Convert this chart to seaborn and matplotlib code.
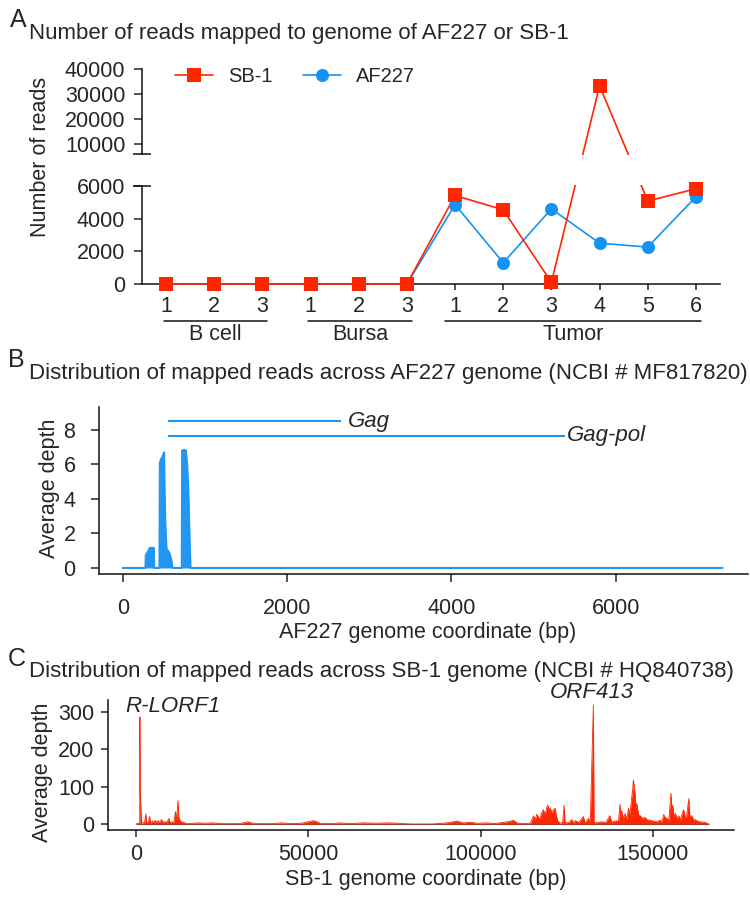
import numpy as np
import pandas as pd
import matplotlib
matplotlib.use("Agg")
import matplotlib.pyplot as plt
from matplotlib.lines import Line2D
from matplotlib.patches import Rectangle
import seaborn as sns

# ---------------- Panel A data ----------------
sample_labels = ['1', '2', '3', '1', '2', '3', '1', '2', '3', '4', '5', '6']
group_names = ['B cell', 'Bursa', 'Tumor']
group_first = [0, 3, 6]
group_last = [2, 5, 11]
sb1_reads = [0, 0, 0, 0, 0, 0, 5420, 4540, 100, 33300, 5080, 5830]
af227_reads = [0, 0, 0, 0, 0, 0, 4860, 1300, 4600, 2500, 2260, 5340]
a_yticks = [0, 2000, 4000, 6000, 10000, 20000, 30000, 40000]
a_break = 6000
a_ymax = 40000

# ---------------- Panel B data ----------------
b_pos = [0, 275, 280, 300, 329, 378, 382, 446, 451, 465, 483, 503, 507, 516,
         532, 564, 592, 604, 718, 722, 745, 767, 783, 796, 816, 824, 7300]
b_depth = [0, 0, 0.75, 0.9, 1.16, 1.16, 0, 0, 6.1, 6.3, 6.45, 6.7, 5.0, 2.8,
           1.1, 0.9, 0.45, 0, 0, 6.8, 6.85, 6.8, 6.0, 4.7, 1.2, 0, 0]
gene_names_b = ['Gag', 'Gag-pol']
gene_start_b = [552, 552]
gene_end_b = [2660, 5380]
gene_y_b = [8.5, 7.65]
b_xticks = [0, 2000, 4000, 6000]
b_yticks = [0, 2, 4, 6, 8]

# ---------------- Panel C data ----------------
c_pos = [0, 600, 1100, 1160, 1250, 1500, 1700, 2500, 2900, 3100, 3600, 4000, 4200,
         4800, 5200, 5600, 6000, 6400, 6800, 7500, 7800, 8300, 8800, 9200, 9600, 9900,
         10400, 11000, 11500, 11700, 12200, 12400, 12800, 13500, 14200, 15000, 18000,
         20000, 22000, 25000, 30000, 32500, 33500, 35000, 40000, 42000, 45000, 48000,
         50500, 51500, 52500, 53500, 57000, 59000, 62000, 66000, 70000, 73000, 76000,
         80000, 86000, 89000, 91000, 93000, 95000, 97000, 99000, 102000, 104000,
         108500, 109500, 110500, 112000, 114500, 115300, 115800, 116300, 116800,
         117200, 117700, 118200, 118700, 119200, 119500, 119900, 120200, 120600,
         121100, 121600, 122000, 122400, 123000, 123800, 124200, 124500, 125500,
         126400, 127000, 127400, 128500, 129800, 130300, 131300, 131800, 132700,
         132900, 134000, 135100, 136300, 137500, 138000, 139400, 140000, 140400,
         140700, 140900, 141300, 141900, 142400, 142900, 143300, 143800, 144100,
         144300, 144600, 144800, 145100, 145300, 145800, 146300, 147000, 147600,
         148200, 149000, 150200, 151000, 152100, 152600, 153100, 153500, 154000,
         154600, 155200, 155500, 155700, 156100, 156500, 157000, 157500, 158000,
         158500, 158900, 159400, 159800, 160400, 160700, 161300, 161800, 162300,
         162800, 163500, 164700, 165500, 166200]
c_depth = [0, 2, 0, 286, 80, 30, 2, 4, 27, 3, 6, 20, 3,
           8, 4, 10, 3, 9, 4, 12, 3, 7, 4, 8, 15, 3,
           6, 4, 33, 4, 62, 20, 8, 5, 3, 1, 3,
           2, 3, 1, 1, 6, 3, 1, 1, 3, 1, 2,
           7, 9, 6, 2, 1, 3, 1, 3, 2, 3, 2,
           0, 0, 2, 4, 8, 3, 5, 2, 3, 1,
           7, 10, 3, 1, 2, 22, 12, 26, 18,
           14, 30, 38, 25, 45, 50, 35, 44, 30,
           38, 42, 20, 8, 2, 4, 50, 3, 4,
           12, 3, 9, 4, 20, 3, 15, 3, 318,
           3, 4, 6, 4, 22, 5, 9, 6, 52,
           20, 36, 15, 28, 12, 42, 25, 70, 90,
           118, 95, 80, 40, 55, 25, 22, 15, 18,
           12, 10, 8, 6, 10, 6, 25, 18, 15,
           10, 82, 40, 50, 20, 28, 15, 22, 10,
           30, 38, 15, 25, 68, 20, 22, 10, 12,
           8, 6, 5, 3, 0]
c_genome_len = 166200
gene_names_c = ['R-LORF1', 'ORF413']
gene_label_x_c = [-3190, 120140]
gene_label_y_c = [313, 352]
c_xticks = [0, 50000, 100000, 150000]
c_yticks = [0, 100, 200, 300]

RED = '#FF2600'
BLUE = '#1493F5'
BLUE_B = '#2196F3'

# ---------------- style ----------------
sns.set_style('ticks')
plt.rcParams['font.family'] = ['Liberation Sans', 'DejaVu Sans']
plt.rcParams['axes.linewidth'] = 1.1
plt.rcParams['axes.edgecolor'] = '#111111'

W, H = 750, 899
fig = plt.figure(figsize=(W / 100, H / 100), dpi=100)


def rect(l, t, r, b):
    return [l / W, 1 - b / H, (r - l) / W, (b - t) / H]


axA = fig.add_axes(rect(142, 69, 720, 284))
axB = fig.add_axes(rect(99, 407, 748, 574))
axC = fig.add_axes(rect(108, 700, 734, 830))

TICK_FS = 15.5
LAB_FS = 15.5
TITLE_FS = 16
LETTER_FS = 18

# ---------------- Panel A ----------------
L_PX, GAP_PX = 98.0, 32.0
K_PX = (215.0 - L_PX - GAP_PX) / (a_ymax - a_break)


def fwd(y):
    y = np.asarray(y, dtype=float)
    return np.where(y <= a_break, y / a_break * L_PX, L_PX + GAP_PX + (y - a_break) * K_PX)


def inv(v):
    v = np.asarray(v, dtype=float)
    return np.where(v <= L_PX, v / L_PX * a_break,
                    np.where(v < L_PX + GAP_PX, a_break, a_break + (v - L_PX - GAP_PX) / K_PX))


xs = np.arange(len(sample_labels))
dfA = pd.DataFrame({'x': xs, 'SB-1': sb1_reads, 'AF227': af227_reads})

sns.lineplot(data=dfA, x='x', y='AF227', ax=axA, color=BLUE, lw=1.2,
             clip_on=False, zorder=3, legend=False)
sns.lineplot(data=dfA, x='x', y='SB-1', ax=axA, color=RED, lw=1.2,
             clip_on=False, zorder=3.2, legend=False)
sns.scatterplot(data=dfA, x='x', y='AF227', ax=axA, color=BLUE, marker='o',
                s=9.4 ** 2, linewidth=0, clip_on=False, zorder=6, legend=False)
sns.scatterplot(data=dfA, x='x', y='SB-1', ax=axA, color=RED, marker='s',
                s=10 ** 2, linewidth=0, clip_on=False, zorder=6.2, legend=False)

axA.set_yscale('function', functions=(fwd, inv))
axA.set_ylim(0, a_ymax)
axA.set_xlim(-0.5, len(sample_labels) - 0.5)
axA.set_yticks(a_yticks)
axA.set_yticklabels([str(v) for v in a_yticks])
axA.yaxis.set_minor_locator(matplotlib.ticker.NullLocator())
axA.set_xticks(xs)
axA.set_xticklabels(sample_labels)
axA.set_xlabel('')
axA.set_ylabel('Number of reads', fontsize=LAB_FS)
axA.yaxis.set_label_coords(-0.157, 0.59)
axA.tick_params(axis='y', length=6, width=1.1, pad=6, labelsize=TICK_FS)
axA.tick_params(axis='x', length=4, width=1.1, pad=5, labelsize=TICK_FS)
sns.despine(ax=axA)

total = float(fwd(a_ymax))
lo = L_PX / total
hi = (L_PX + GAP_PX) / total
axA.add_patch(Rectangle((-0.016, lo + 1.0 / total), 1.1, hi - lo - 2.0 / total,
                        transform=axA.transAxes, facecolor='white', edgecolor='none',
                        zorder=5, clip_on=False))
dx = 9.0 / 578
for yy in (lo, hi):
    axA.plot([-dx, dx], [yy, yy], transform=axA.transAxes, color='#111111',
             lw=1.1, clip_on=False, zorder=7, solid_capstyle='butt')

xt = axA.get_xaxis_transform()
for name, a, b in zip(group_names, group_first, group_last):
    pad_l = 0.2 if name == 'Tumor' else 0.05
    axA.plot([a - pad_l, b + 0.1], [-0.172, -0.172], transform=xt, color='#111111',
             lw=1.1, clip_on=False)
    axA.text((a - pad_l + b + 0.1) / 2, -0.233, name, transform=xt, ha='center',
             va='center', fontsize=TICK_FS)

handles = [Line2D([], [], color=RED, marker='s', markersize=10, mew=0, lw=1.2),
           Line2D([], [], color=BLUE, marker='o', markersize=9.4, mew=0, lw=1.2)]
axA.legend(handles, ['SB-1', 'AF227'], loc='center left',
           bbox_to_anchor=(175 / W, 1 - 77 / H), bbox_transform=fig.transFigure,
           ncol=2, frameon=False, fontsize=14.5, borderpad=0, borderaxespad=0,
           handlelength=1.9, handletextpad=0.75, columnspacing=1.5)

# ---------------- Panel B ----------------
dfB = pd.DataFrame({'pos': b_pos, 'depth': b_depth})
axB.fill_between(dfB['pos'], 0, dfB['depth'], color=BLUE_B, lw=0)
sns.lineplot(data=dfB, x='pos', y='depth', ax=axB, color=BLUE_B, lw=1.5)
for name, s, e, y in zip(gene_names_b, gene_start_b, gene_end_b, gene_y_b):
    axB.hlines(y, s, e, color=BLUE_B, lw=1.5)
    axB.text(e + (80 if name == 'Gag' else 20), y, name, style='italic',
             va='center', ha='left', fontsize=16)
axB.set_xlim(-290, 7610)
axB.set_ylim(-0.35, 9.33)
axB.set_xticks(b_xticks)
axB.set_xticklabels([str(v) for v in b_xticks])
axB.set_yticks(b_yticks)
axB.set_yticklabels([str(v) for v in b_yticks])
axB.set_xlabel('AF227 genome coordinate (bp)', fontsize=LAB_FS)
axB.set_ylabel('Average depth', fontsize=LAB_FS)
axB.xaxis.set_label_coords(0.507, -0.29)
axB.yaxis.set_label_coords(-0.06, 0.515)
axB.tick_params(axis='both', length=6, width=1.1, labelsize=TICK_FS)
axB.tick_params(axis='x', pad=11)
axB.tick_params(axis='y', pad=11)
sns.despine(ax=axB)

# ---------------- Panel C ----------------
dfC = pd.DataFrame({'pos': c_pos, 'depth': c_depth})
axC.hlines(0, 0, c_genome_len, color='#555555', lw=0.8, zorder=1)
axC.fill_between(dfC['pos'], 0, dfC['depth'], color=RED, lw=0, zorder=2)
sns.lineplot(data=dfC, x='pos', y='depth', ax=axC, color=RED, lw=0.6, zorder=2)
for name, gx, gy in zip(gene_names_c, gene_label_x_c, gene_label_y_c):
    axC.text(gx, gy, name, style='italic', va='center', ha='left', fontsize=16)
axC.set_xlim(-8100, 173500)
axC.set_ylim(-16, 331)
axC.set_xticks(c_xticks)
axC.set_xticklabels([str(v) for v in c_xticks])
axC.set_yticks(c_yticks)
axC.set_yticklabels([str(v) for v in c_yticks])
axC.set_xlabel('SB-1 genome coordinate (bp)', fontsize=LAB_FS)
axC.set_ylabel('Average depth', fontsize=LAB_FS)
axC.xaxis.set_label_coords(0.508, -0.30)
axC.yaxis.set_label_coords(-0.088, 0.446)
axC.tick_params(axis='both', length=5, width=1.1, labelsize=TICK_FS, pad=5)
sns.despine(ax=axC)

# ---------------- titles / panel letters ----------------
fig.text(10 / W, 1 - 20 / H, 'A', fontsize=LETTER_FS, va='center', ha='left')
fig.text(29 / W, 1 - 33 / H, 'Number of reads mapped to genome of AF227 or SB-1',
         fontsize=TITLE_FS, va='center', ha='left')
fig.text(8 / W, 1 - 360 / H, 'B', fontsize=LETTER_FS, va='center', ha='left')
fig.text(29 / W, 1 - 373 / H,
         'Distribution of mapped reads across AF227 genome (NCBI # MF817820)',
         fontsize=TITLE_FS, va='center', ha='left')
fig.text(8 / W, 1 - 659 / H, 'C', fontsize=LETTER_FS, va='center', ha='left')
fig.text(29 / W, 1 - 671 / H,
         'Distribution of mapped reads across SB-1 genome (NCBI # HQ840738)',
         fontsize=TITLE_FS, va='center', ha='left')

fig.savefig('out.png', dpi=100)
